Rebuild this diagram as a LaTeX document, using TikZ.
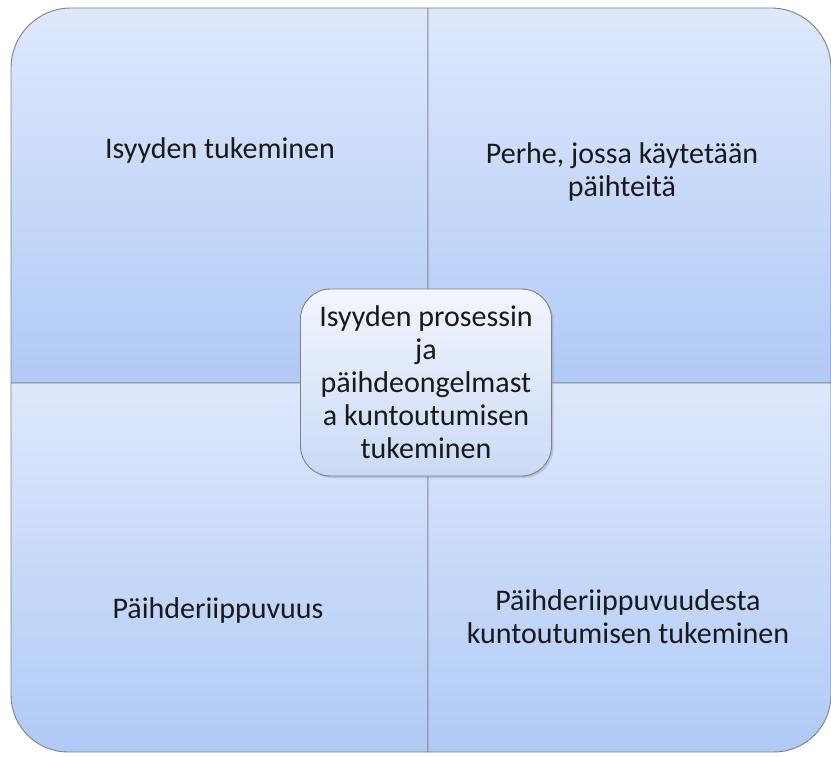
\documentclass[tikz,border=0pt]{standalone}
\usepackage{fontspec}
\setmainfont{Carlito}
\usetikzlibrary{shadows}
\definecolor{edge}{RGB}{128,128,128}
\definecolor{qtop}{RGB}{222,232,252}
\definecolor{qbot}{RGB}{176,202,246}
\definecolor{ctop}{RGB}{242,246,253}
\definecolor{cbot}{RGB}{202,218,246}
\begin{document}
\begin{tikzpicture}[x=1pt,y=-1pt,
  quad/.style={draw=edge,line width=0.9pt,top color=qtop,bottom color=qbot},
  lbl/.style={font=\fontsize{30}{33}\selectfont,align=center,text=black!90}]
\useasboundingbox (0,0) rectangle (831,756);
% top-left
\path[quad] (428,383) -- (11,383) -- (11,68) arc[start angle=180,end angle=270,radius=60] -- (428,8) -- cycle;
% top-right
\path[quad] (428,383) -- (428,8) -- (771,8) arc[start angle=270,end angle=360,radius=60] -- (831,383) -- cycle;
% bottom-left
\path[quad] (428,383) -- (428,752) -- (68,752) arc[start angle=90,end angle=180,radius=57] -- (11,383) -- cycle;
% bottom-right
\path[quad] (428,383) -- (831,383) -- (831,695) arc[start angle=0,end angle=90,radius=57] -- (428,752) -- cycle;
% centre
\node[lbl,draw=edge,line width=0.9pt,rounded corners=30pt,top color=ctop,bottom color=cbot,
  drop shadow={shadow xshift=2pt,shadow yshift=-2pt,opacity=0.3},
  minimum width=251pt,minimum height=187pt,inner sep=0pt] (c) at (426,382.5)
  {Isyyden prosessin\\ja\\päihdeongelmast\\a kuntoutumisen\\tukeminen};
\node[lbl] (q1) at (220,150) {Isyyden tukeminen};
\node[lbl] (q2) at (622,172) {Perhe, jossa käytetään\\päihteitä};
\node[lbl] (q3) at (218,610) {Päihderiippuvuus};
\node[lbl] (q4) at (628,617) {Päihderiippuvuudesta\\kuntoutumisen tukeminen};
\end{tikzpicture}
\end{document}
